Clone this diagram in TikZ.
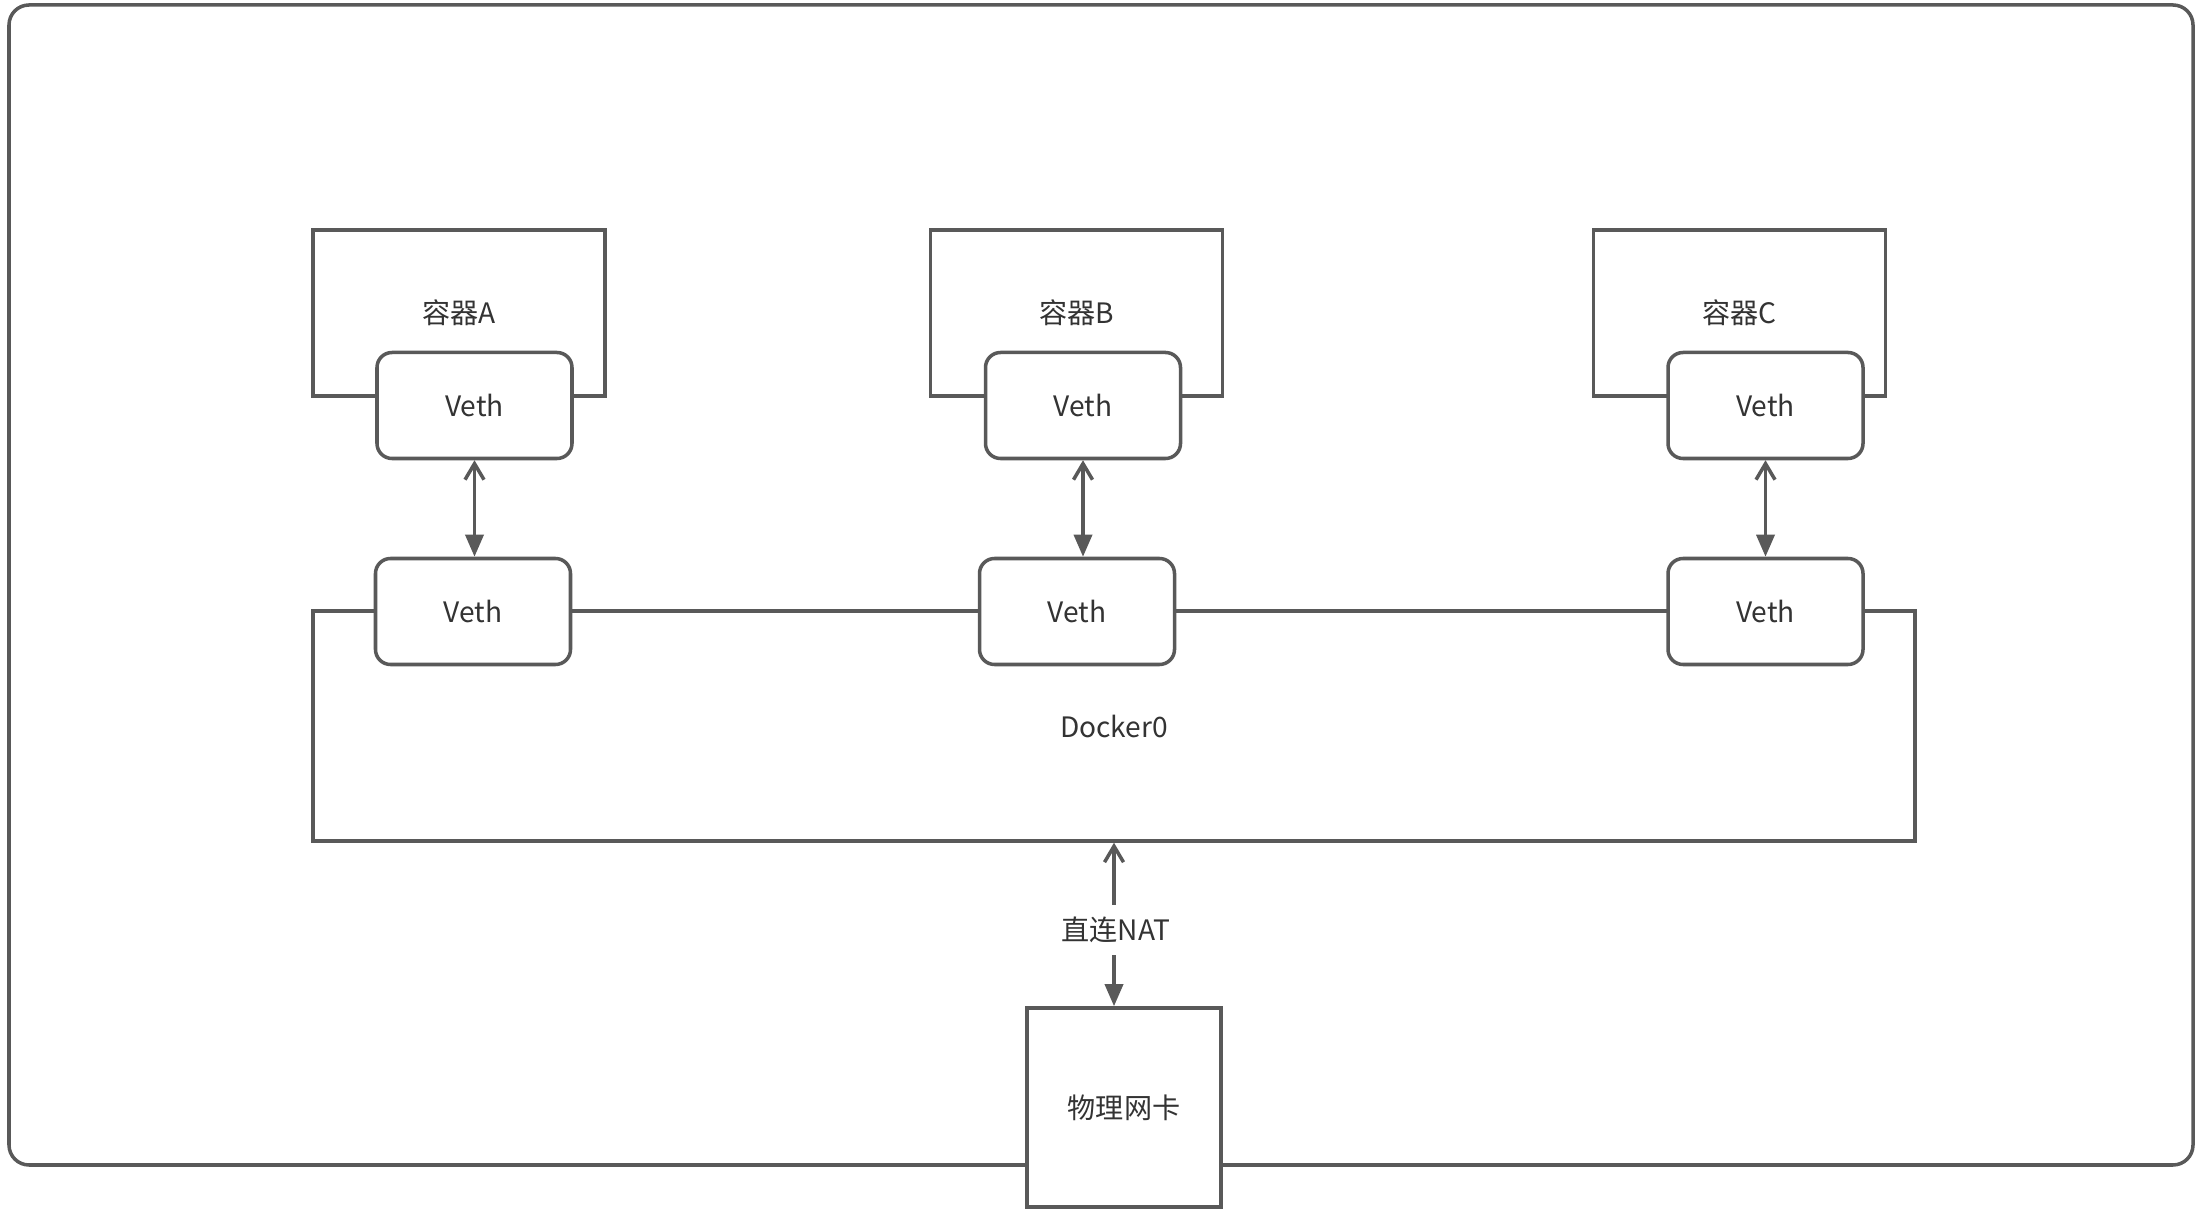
\documentclass[tikz,border=0pt]{standalone}
\usepackage{fontspec}
\setmainfont{Noto Sans CJK SC}
\usetikzlibrary{arrows.meta,positioning}
\definecolor{cline}{HTML}{595959}
\definecolor{ctext}{HTML}{333333}

\begin{document}
\begin{tikzpicture}[
    font=\fontsize{8}{10}\selectfont,
    frame/.style={draw=cline, line width=1pt, text=ctext},
    hostbox/.style={frame, rounded corners=0.2cm},
    ctbox/.style={frame, minimum width=2.92cm, minimum height=1.66cm},
    vethbox/.style={frame, fill=white, rounded corners=0.15cm,
        minimum width=1.95cm, minimum height=1.06cm},
    bridgebox/.style={frame, minimum width=16.02cm, minimum height=2.30cm},
    nicbox/.style={frame, fill=white, minimum width=1.94cm, minimum height=1.99cm},
    pairarrow/.style={draw=cline, line width=1pt,
        {Straight Barb[length=0.16cm, width=0.19cm]}-{Triangle[length=0.22cm, width=0.18cm]}},
    uparrow/.style={draw=cline, line width=1pt, -{Straight Barb[length=0.16cm, width=0.19cm]}},
    downarrow/.style={draw=cline, line width=1pt, -{Triangle[length=0.22cm, width=0.18cm]}},
]
\useasboundingbox (0,0) rectangle (22.08,12.12);

% ============================================================
% HOST frame
% ============================================================
\draw[hostbox] (0.09,0.47) rectangle (21.93,12.07);

% ============================================================
% CONTAINERS
% ============================================================
\node[ctbox] (ctA) at (4.59,8.99) {容器A};
\node[ctbox] (ctB) at (10.765,8.99) {容器B};
\node[ctbox] (ctC) at (17.395,8.99) {容器C};

% ============================================================
% BRIDGE
% ============================================================
\node[bridgebox] (docker) at (11.14,4.86) {Docker0};

% Veth pairs (container side)
\node[vethbox] (vethA) at (4.745,8.065) {Veth};
\node[vethbox] (vethB) at (10.83,8.065) {Veth};
\node[vethbox] (vethC) at (17.655,8.065) {Veth};

% Veth pairs (bridge side)
\node[vethbox] (brA) at (4.73,6.005) {Veth};
\node[vethbox] (brB) at (10.77,6.005) {Veth};
\node[vethbox] (brC) at (17.655,6.005) {Veth};

\draw[pairarrow] (vethA.south) -- (vethA.south |- brA.north);
\draw[pairarrow] (vethB.south) -- (vethB.south |- brB.north);
\draw[pairarrow] (vethC.south) -- (vethC.south |- brC.north);

% ============================================================
% PHYSICAL NIC
% ============================================================
\node[nicbox] (nic) at (11.24,1.045) {物理网卡};
\node[text=ctext] (nat) at (11.16,2.82) {直连NAT};

\draw[uparrow] (docker.south |- nat.north) -- (docker.south);
\draw[downarrow] (docker.south |- nat.south) -- (docker.south |- nic.north);

\end{tikzpicture}
\end{document}
